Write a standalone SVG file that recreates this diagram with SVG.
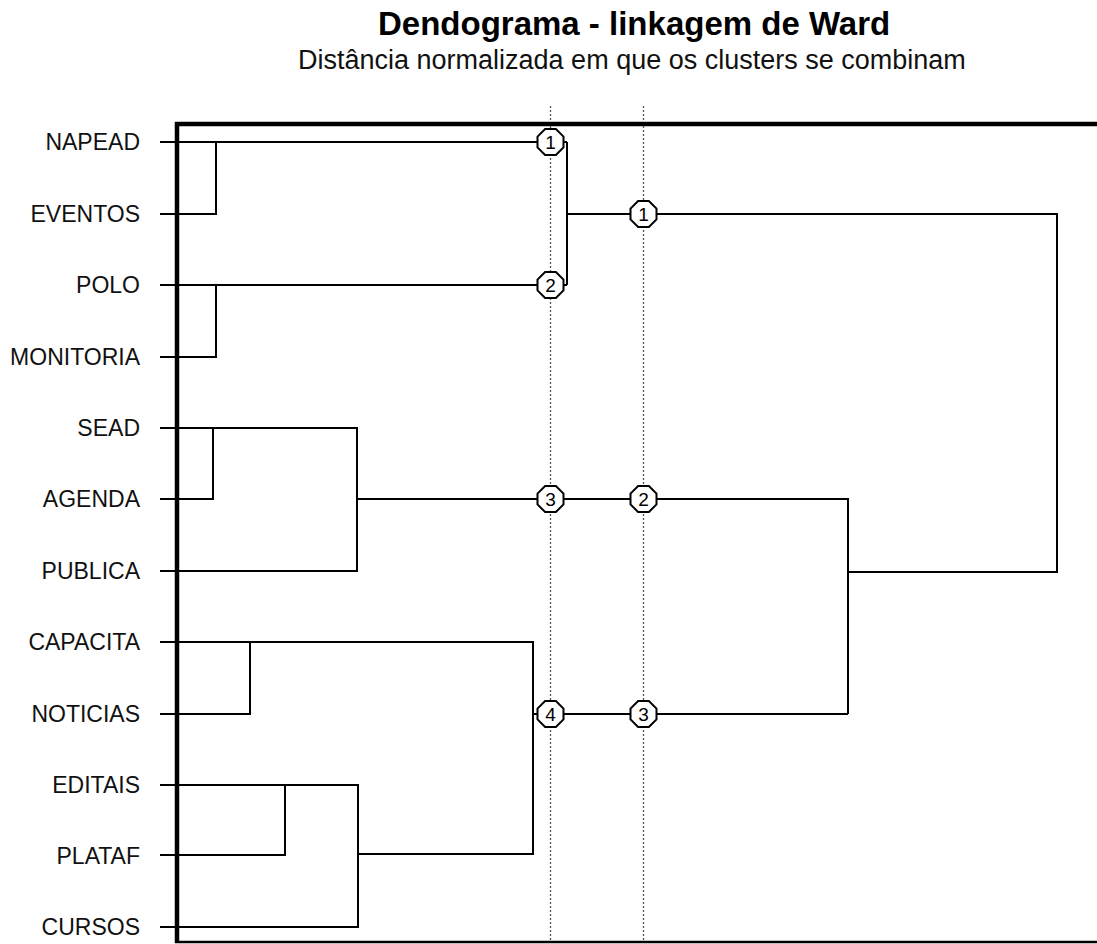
<svg xmlns="http://www.w3.org/2000/svg" xmlns:xlink="http://www.w3.org/1999/xlink" width="1097" height="944" viewBox="0 0 1097 944">
<style>
.lbl{font-family:"Liberation Sans",Arial,sans-serif;font-size:23px;fill:#111;text-anchor:end}
.num{font-family:"Liberation Sans",Arial,sans-serif;font-size:19px;fill:#000;text-anchor:middle}
.ln{fill:none;stroke:#000;stroke-width:2}
.dot{fill:none;stroke:#555;stroke-width:1.3;stroke-dasharray:2 2}
.oct{fill:#fff;stroke:#000;stroke-width:2}
</style>
<defs>
<polygon id="oct" points="-5.4,-13 5.4,-13 13,-5.4 13,5.4 5.4,13 -5.4,13 -13,5.4 -13,-5.4"/>
</defs>
<rect width="1097" height="944" fill="#fff"/>
<text x="378" y="35" font-family="Liberation Sans,Arial,sans-serif" font-size="33" font-weight="bold" fill="#000">Dendograma - linkagem de Ward</text>
<text x="298" y="69" font-family="Liberation Sans,Arial,sans-serif" font-size="27" fill="#111">Distância normalizada em que os clusters se combinam</text>
<g id="guides">
<line class="dot" x1="550.5" y1="106" x2="550.5" y2="942"/>
<line class="dot" x1="643.5" y1="106" x2="643.5" y2="942"/>
</g>
<g id="frame" fill="none" stroke="#000">
<line x1="177" y1="122" x2="177" y2="943" stroke-width="4.5"/>
<line x1="175" y1="124" x2="1097" y2="124" stroke-width="4.5"/>
<line x1="175" y1="942" x2="1097" y2="942" stroke-width="2.5"/>
</g>
<g id="connectors" class="ln">
<path class="ln" d="M160 142 H567"/>
<path class="ln" d="M160 214 H216 V142"/>
<path class="ln" d="M160 285 H567"/>
<path class="ln" d="M160 357 H216 V285"/>
<path class="ln" d="M567 142 V285"/>
<path class="ln" d="M567 214 H1057 V572 H848"/>
<path class="ln" d="M160 428 H357 V571 H160"/>
<path class="ln" d="M160 499 H213 V428"/>
<path class="ln" d="M357 499 H848 V714"/>
<path class="ln" d="M160 642 H533 V854 H358"/>
<path class="ln" d="M160 714 H250 V642"/>
<path class="ln" d="M533 714 H848"/>
<path class="ln" d="M160 785 H358 V927 H160"/>
<path class="ln" d="M160 855 H285 V785"/>
</g>
<g id="leaf-NAPEAD"><text class="lbl" x="140" y="150">NAPEAD</text></g>
<g id="leaf-EVENTOS"><text class="lbl" x="140" y="222">EVENTOS</text></g>
<g id="leaf-POLO"><text class="lbl" x="140" y="293">POLO</text></g>
<g id="leaf-MONITORIA"><text class="lbl" x="140" y="365">MONITORIA</text></g>
<g id="leaf-SEAD"><text class="lbl" x="140" y="436">SEAD</text></g>
<g id="leaf-AGENDA"><text class="lbl" x="140" y="507">AGENDA</text></g>
<g id="leaf-PUBLICA"><text class="lbl" x="140" y="579">PUBLICA</text></g>
<g id="leaf-CAPACITA"><text class="lbl" x="140" y="650">CAPACITA</text></g>
<g id="leaf-NOTICIAS"><text class="lbl" x="140" y="722">NOTICIAS</text></g>
<g id="leaf-EDITAIS"><text class="lbl" x="140" y="793">EDITAIS</text></g>
<g id="leaf-PLATAF"><text class="lbl" x="140" y="864">PLATAF</text></g>
<g id="leaf-CURSOS"><text class="lbl" x="140" y="935">CURSOS</text></g>
<g id="m-a1"><use xlink:href="#oct" class="oct" x="550.5" y="142"/><text class="num" x="550.5" y="149">1</text></g>
<g id="m-a2"><use xlink:href="#oct" class="oct" x="550.5" y="285"/><text class="num" x="550.5" y="292">2</text></g>
<g id="m-a3"><use xlink:href="#oct" class="oct" x="550.5" y="499"/><text class="num" x="550.5" y="506">3</text></g>
<g id="m-a4"><use xlink:href="#oct" class="oct" x="550.5" y="714"/><text class="num" x="550.5" y="721">4</text></g>
<g id="m-b1"><use xlink:href="#oct" class="oct" x="643.5" y="214"/><text class="num" x="643.5" y="221">1</text></g>
<g id="m-b2"><use xlink:href="#oct" class="oct" x="643.5" y="499"/><text class="num" x="643.5" y="506">2</text></g>
<g id="m-b3"><use xlink:href="#oct" class="oct" x="643.5" y="714"/><text class="num" x="643.5" y="721">3</text></g>
</svg>
